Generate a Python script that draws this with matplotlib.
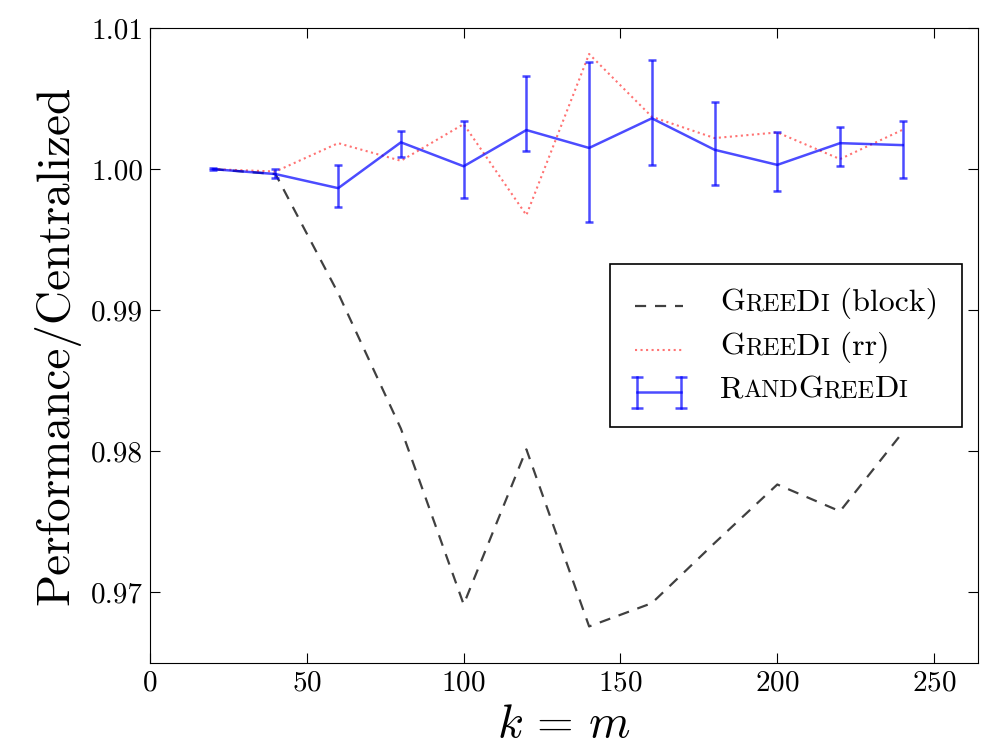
import matplotlib
matplotlib.use("Agg")
from matplotlib import pyplot as plt
from matplotlib.lines import Line2D
from matplotlib.offsetbox import AnchoredOffsetbox, DrawingArea, HPacker, TextArea, VPacker
import numpy as np

plt.rcParams['font.family'] = 'serif'
plt.rcParams['font.serif'] = ['cmr10']
plt.rcParams['mathtext.fontset'] = 'cm'
plt.rcParams['axes.formatter.use_mathtext'] = True

# k = m values and performance relative to the centralized solution
k_vals = [20, 40, 60, 80, 100, 120, 140, 160, 180, 200, 220, 240]
greedi_block = [1.0000, 0.99965, 0.9912, 0.9816, 0.96915, 0.98014,
                0.96759, 0.96924, 0.9735, 0.97765, 0.97575, 0.98135]
greedi_rr = [1.0000, 0.99983, 1.00184, 1.00059, 1.00319, 0.99674,
             1.00816, 1.00371, 1.0022, 1.0026, 1.00071, 1.00279]
rand_mean = [1.0000, 0.99965, 0.99865, 1.0019, 1.0002, 1.00277,
             1.0015, 1.0036, 1.00137, 1.0003, 1.00184, 1.0017]
rand_low = [0.99995, 0.9994, 0.99733, 1.00083, 0.99792, 1.00125,
            0.99622, 1.00031, 0.99889, 0.99846, 1.00024, 0.99936]
rand_high = [1.00005, 1.0000, 1.0003, 1.00267, 1.00338, 1.00662,
             1.00757, 1.00773, 1.00473, 1.00265, 1.003, 1.00343]

x = np.array(k_vals)
mean = np.array(rand_mean)
yerr = [mean - np.array(rand_low), np.array(rand_high) - mean]

fig = plt.figure(figsize=(9.89, 7.51), dpi=100)
ax = fig.add_axes([0.1517, 0.1172, 0.8372, 0.8455])

ax.plot(x, greedi_block, color='k', alpha=0.75, lw=1.6, dashes=(5, 4))
ax.plot(x, greedi_rr, color='r', alpha=0.55, lw=1.5, linestyle=':')
ax.errorbar(x, mean, yerr=yerr, color='b', alpha=0.7, lw=1.8,
            elinewidth=1.8, capsize=3, capthick=1.8)

ax.set_xlim(0, 264)
ax.set_ylim(0.965, 1.01)
ax.set_xticks([0, 50, 100, 150, 200, 250])
ax.set_yticks([0.97, 0.98, 0.99, 1.00, 1.01])
ax.set_yticklabels(['0.97', '0.98', '0.99', '1.00', '1.01'])
ax.tick_params(direction='in', top=True, right=True, length=7,
               labelsize=21, pad=5)
ax.set_xlabel(r'$k\,=\,m$', fontsize=34, labelpad=6)
ax.set_ylabel('Performance/Centralized', fontsize=34, labelpad=8)


def smallcaps(parts, big=23, small=17.5):
    boxes = []
    for txt, is_small in parts:
        boxes.append(TextArea(txt, textprops=dict(size=small if is_small else big,
                                                    family='serif')))
    return HPacker(children=boxes, align='baseline', pad=0, sep=0)


def line_handle(**kw):
    da = DrawingArea(36, 20, 0, 0)
    da.add_artist(Line2D([1, 35], [8, 8], **kw))
    return da


def errbar_handle():
    da = DrawingArea(36, 20, 0, 0)
    kw = dict(color='b', alpha=0.7, lw=1.8)
    da.add_artist(Line2D([2, 34], [8, 8], **kw))
    for xe in (2, 34):
        da.add_artist(Line2D([xe, xe], [-3, 19], marker='_', ms=8, mew=1.8, **kw))
    return da


rows = [
    (line_handle(color='k', alpha=0.75, lw=1.6, dashes=(5, 4)),
     [('G', False), ('REE', True), ('D', False), ('I', True), (' (block)', False)]),
    (line_handle(color='r', alpha=0.55, lw=1.5, linestyle=':'),
     [('G', False), ('REE', True), ('D', False), ('I', True), (' (rr)', False)]),
    (errbar_handle(),
     [('R', False), ('AND', True), ('G', False), ('REE', True), ('D', False), ('I', True)]),
]
packed = [HPacker(children=[h, smallcaps(p)], align='center', pad=0, sep=26)
          for h, p in rows]
box = VPacker(children=packed, align='left', pad=0, sep=9)
legend = AnchoredOffsetbox(loc='center right', child=box, pad=1.7,
                           borderpad=1.15, frameon=True)
legend.patch.set_edgecolor('k')
legend.patch.set_linewidth(1.2)
ax.add_artist(legend)

fig.savefig('out.png', dpi=100)
